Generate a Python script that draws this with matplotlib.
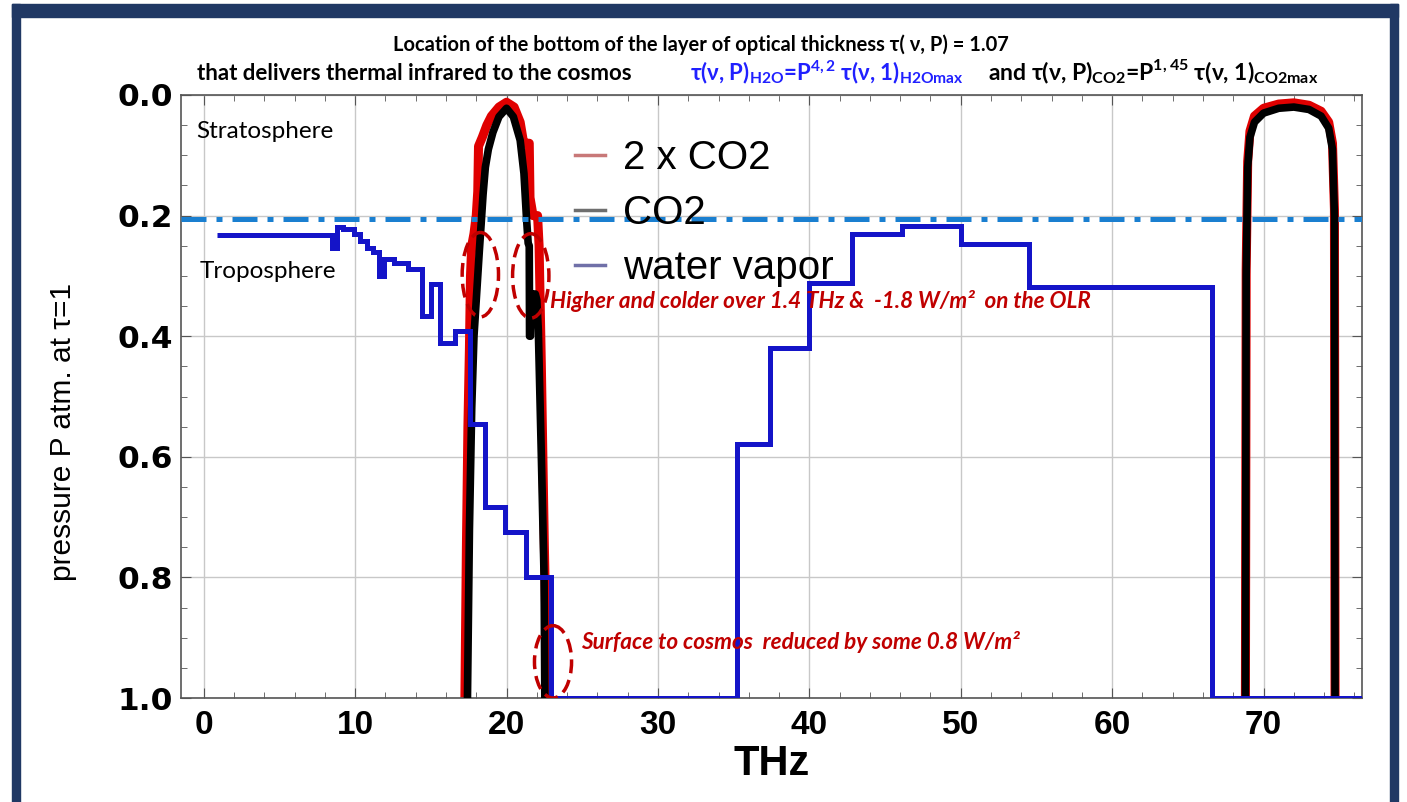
import matplotlib
matplotlib.use('Agg')
import matplotlib.pyplot as plt
from matplotlib.patches import Ellipse, Rectangle
from matplotlib.lines import Line2D
from matplotlib.ticker import MultipleLocator

TITLE = ['Lato', 'DejaVu Sans']
plt.rcParams['mathtext.fontset'] = 'custom'
plt.rcParams['mathtext.rm'] = 'Lato'
plt.rcParams['mathtext.bf'] = 'Lato:bold'
plt.rcParams['mathtext.fallback'] = 'stixsans'

# water vapor: step levels between frequency edges (THz, atm)
h2o_edges = [0.9, 8.5, 8.8, 9.2, 9.9, 10.3, 10.8, 11.2, 11.6, 11.9, 12.6, 13.5, 14.4, 15.0,
             15.6, 16.6, 17.6, 18.6, 19.9, 21.3, 22.95, 35.2, 37.4, 40.0, 42.8, 46.1, 50.0,
             54.5, 66.6, 76.5]
h2o_levels = [0.233, 0.253, 0.219, 0.222, 0.230, 0.242, 0.253, 0.261, 0.300, 0.272, 0.278,
              0.289, 0.367, 0.314, 0.411, 0.392, 0.545, 0.683, 0.725, 0.800, 1.0, 0.578,
              0.419, 0.311, 0.231, 0.218, 0.247, 0.319, 1.0]

# CO2, band around 20 THz
co2_b1_thz = [17.42, 17.55, 17.70, 17.85, 18.05, 18.20, 18.32, 18.45, 18.60, 18.80, 19.10, 19.50,
              20.00, 20.45, 20.90, 21.15, 21.32, 21.43, 21.50, 21.52, 21.58, 21.62, 21.90,
              22.00, 22.10, 22.30, 22.48, 22.53]
co2_b1_p = [1.00, 0.72, 0.52, 0.40, 0.32, 0.26, 0.215, 0.165, 0.12, 0.09, 0.062, 0.036,
            0.022, 0.036, 0.075, 0.13, 0.205, 0.246, 0.25, 0.40, 0.40, 0.33, 0.33,
            0.34, 0.39, 0.60, 0.80, 1.00]
# CO2, band around 72 THz
co2_b2_thz = [68.80, 68.85, 68.95, 69.10, 69.40, 70.00, 71.00, 72.00, 73.00, 73.80, 74.30,
              74.55, 74.68, 74.72]
co2_b2_p = [1.0, 0.30, 0.12, 0.07, 0.045, 0.030, 0.022, 0.020, 0.024, 0.035, 0.055, 0.09,
            0.20, 1.0]

# 2 x CO2
co2x2_b1_thz = [17.25, 17.35, 17.45, 17.55, 17.62, 17.70, 17.85, 18.00, 18.10, 18.15, 18.40,
                18.70, 19.00, 19.50, 20.00, 20.50, 20.90, 21.10, 21.20, 21.50, 21.55, 21.75,
                22.05, 22.15, 22.30, 22.50, 22.70]
co2x2_b1_p = [1.00, 0.75, 0.55, 0.42, 0.30, 0.25, 0.23, 0.20, 0.16, 0.085, 0.07, 0.05, 0.035,
              0.02, 0.012, 0.02, 0.045, 0.075, 0.08, 0.08, 0.17, 0.20, 0.20, 0.25, 0.45,
              0.75, 1.00]
co2x2_b2_thz = co2_b2_thz
co2x2_b2_p = [1.0, 0.29, 0.11, 0.06, 0.035, 0.022, 0.015, 0.013, 0.017, 0.027, 0.045, 0.08,
              0.19, 1.0]

tropopause = 0.205
x_ticks = [0, 10, 20, 30, 40, 50, 60, 70]
y_ticks = [0.0, 0.2, 0.4, 0.6, 0.8, 1.0]

fig = plt.figure(figsize=(14.07, 8.02), dpi=100)
ax = fig.add_axes([181/1407, 1 - 698/802, 1181/1407, 603/802])

# frame of the slide
navy = '#203864'
fig.patches.append(Rectangle((12/1407, 1 - 17/802), 1386/1407, 13/802, transform=fig.transFigure,
                             color=navy, zorder=0))
fig.patches.append(Rectangle((12/1407, 0), 8/1407, 1 - 4/802, transform=fig.transFigure,
                             color=navy, zorder=0))
fig.patches.append(Rectangle((1390/1407, 0), 8/1407, 1 - 4/802, transform=fig.transFigure,
                             color=navy, zorder=0))

# curves
ax.plot(co2x2_b1_thz, co2x2_b1_p, color='#e00000', lw=6.5, solid_joinstyle='round', zorder=2)
ax.plot(co2x2_b2_thz, co2x2_b2_p, color='#e00000', lw=6.5, solid_joinstyle='round', zorder=2)
ax.plot(co2_b1_thz, co2_b1_p, color='black', lw=5.5, solid_joinstyle='round', zorder=3)
ax.plot(co2_b2_thz, co2_b2_p, color='black', lw=5.5, solid_joinstyle='round', zorder=3)
ax.stairs(h2o_levels, h2o_edges, baseline=None, color='#1414c8', lw=3.6, zorder=4)
ax.axhline(tropopause, color='#1a7fd0', lw=3.6, dashes=(5, 2, 1.2, 2), zorder=5)

ax.set_xlim(-1.5, 76.5)
ax.set_ylim(1.0, 0.0)
ax.set_xticks(x_ticks)
ax.set_yticks(y_ticks)
ax.xaxis.set_minor_locator(MultipleLocator(2))
ax.yaxis.set_minor_locator(MultipleLocator(0.05))
ax.grid(True, which='major', color='#c8c8c8', lw=1)
ax.set_axisbelow(True)
ax.tick_params(which='both', direction='in', top=True, right=True, colors='#555555')
ax.tick_params(which='major', length=7)
ax.tick_params(which='minor', length=4)
ax.tick_params(axis='x', labelcolor='black', pad=9)
ax.tick_params(axis='y', labelcolor='black', pad=6)
for s in ax.spines.values():
    s.set_color('#555555')
    s.set_linewidth(1.2)

ax.set_xticklabels([str(t) for t in x_ticks], family='Liberation Sans', fontweight='bold',
                   fontsize=24)
ax.set_yticklabels(['%.1f' % t for t in y_ticks], family='DejaVu Sans', fontweight='bold',
                   fontsize=22.5)
ax.set_xlabel('THz', family='Liberation Sans', fontweight='bold', fontsize=30, labelpad=2)
ax.set_ylabel('pressure P atm. at τ=1', family='Liberation Sans', fontsize=21.5)
ax.yaxis.set_label_coords((77 - 181) / 1181, (698 - 432) / 603)

# legend
handles = [Line2D([], [], color='#c87878', lw=2.5),
           Line2D([], [], color='#6e6e6e', lw=2.5),
           Line2D([], [], color='#7070a8', lw=2.5)]
ax.legend(handles, ['2 x CO2', 'CO2', 'water vapor'], loc='upper left',
          bbox_to_anchor=((555 - 181) / 1181, 0.96), frameon=False, borderpad=0,
          prop={'family': 'Liberation Sans', 'size': 29}, handlelength=0.75,
          handletextpad=0.45, labelspacing=0.42)

ax.text(-0.5, 0.061, 'Stratosphere', family='Lato', fontsize=17.5, va='center', ha='left')
ax.text(-0.3, 0.292, 'Troposphere', family='Lato', fontsize=17.5, va='center', ha='left')

# annotations
red = '#c00000'
for cx, cy, w, h in [(18.27, 0.298, 2.4, 0.14), (21.6, 0.300, 2.4, 0.14), (23.07, 0.94, 2.45, 0.12)]:
    ax.add_patch(Ellipse((cx, cy), w, h, fill=False, ec=red, lw=2.5, ls=(0, (4, 2)), zorder=6))
ax.text(22.9, 0.342, 'Higher and colder over 1.4 THz &  -1.8 W/m²  on the OLR', color=red,
        family='Lato', fontweight='bold', style='italic', fontsize=16.2, va='center', zorder=7)
ax.text(24.95, 0.907, 'Surface to cosmos  reduced by some 0.8 W/m²', color=red,
        family='Lato', fontweight='bold', style='italic', fontsize=16.2, va='center', zorder=7)

# title
fig.text(701/1407, 1 - 51/802, 'Location of the bottom of the layer of optical thickness τ( ν, P) = 1.07',
         family=TITLE, fontweight='bold', fontsize=14.5, ha='center', va='baseline')
fig.text(197/1407, 1 - 80/802, 'that delivers thermal infrared to the cosmos',
         family=TITLE, fontweight='bold', fontsize=16, ha='left', va='baseline')
fig.text(690/1407, 1 - 80/802, r'τ(ν, P)$_{\mathbf{H2O}}$=P$^{\mathbf{4,2}}$ τ(ν, 1)$_{\mathbf{H2Omax}}$',
         family=TITLE, fontweight='bold', fontsize=16, color='#2020ff', ha='left', va='baseline')
fig.text(988/1407, 1 - 80/802, r'and τ(ν, P)$_{\mathbf{CO2}}$=P$^{\mathbf{1,45}}$ τ(ν, 1)$_{\mathbf{CO2max}}$',
         family=TITLE, fontweight='bold', fontsize=16.5, ha='left', va='baseline')

fig.savefig('out.png', dpi=100)
